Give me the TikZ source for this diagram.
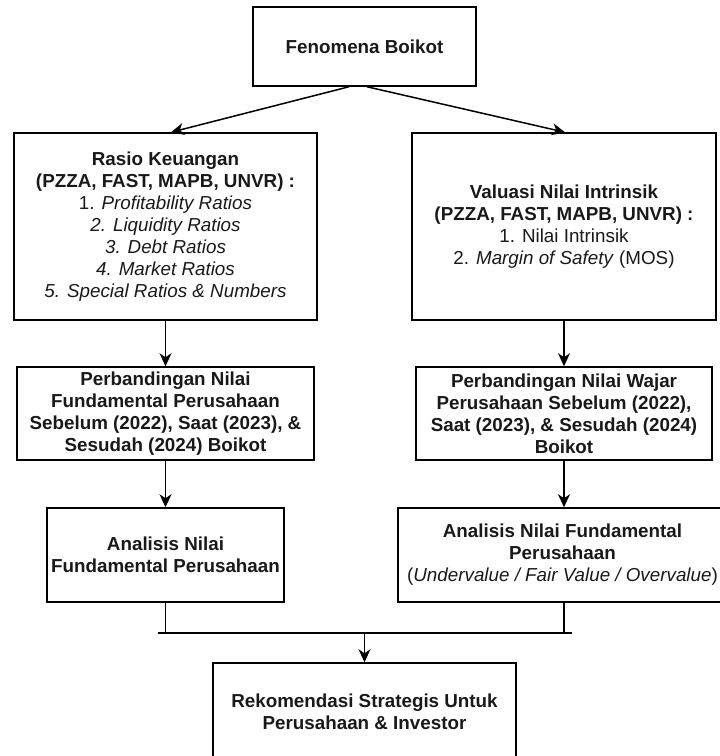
\documentclass[tikz,border=0pt]{standalone}
\usepackage{fontspec}
\setmainfont{Liberation Sans}
\usetikzlibrary{arrows.meta,calc}
\tikzset{
  box/.style={draw=black, line width=1.5pt, inner sep=0pt, align=center,
    font={\fontsize{18.8}{22}\selectfont}, text=black!90},
  arr/.style={line width=1.5pt, -{Stealth[length=13pt,width=12pt,inset=4pt]}},
  ln/.style={line width=1.5pt},
}
\begin{document}
\begin{tikzpicture}[x=1pt,y=-1pt]
\useasboundingbox (0,0) rectangle (720,756);
\node[box, minimum width=223pt, minimum height=79pt] (top) at (364.5,46.5) {\textbf{Fenomena Boikot}};
\node[box, minimum width=303pt, minimum height=187pt] (l2) at (165.5,226.5)
  {\textbf{Rasio Keuangan}\\\textbf{(PZZA, FAST, MAPB, UNVR) :}\\1. \textit{Profitability Ratios}\\\textit{2. Liquidity Ratios}\\\textit{3. Debt Ratios}\\\textit{4. Market Ratios}\\\textit{5. Special Ratios \& Numbers}};
\node[box, minimum width=304pt, minimum height=187pt] (r2) at (564,226.5)
  {\textbf{Valuasi Nilai Intrinsik}\\\textbf{(PZZA, FAST, MAPB, UNVR) :}\\1. Nilai Intrinsik\\2. \textit{Margin of Safety} (MOS)};
\node[box, minimum width=297pt, minimum height=93pt] (l3) at (165.5,413.5)
  {\textbf{Perbandingan Nilai}\\\textbf{Fundamental Perusahaan}\\\textbf{Sebelum (2022), Saat (2023), \&}\\\textbf{Sesudah (2024) Boikot}};
\node[box, minimum width=296pt, minimum height=93pt] (r3) at (564,413.5)
  {\textbf{Perbandingan Nilai Wajar}\\\textbf{Perusahaan Sebelum (2022),}\\\textbf{Saat (2023), \& Sesudah (2024)}\\\textbf{Boikot}};
\node[box, minimum width=237pt, minimum height=94pt] (l4) at (165.5,555)
  {\textbf{Analisis Nilai}\\\textbf{Fundamental Perusahaan}};
\node[box, minimum width=329pt, minimum height=94pt] (r4) at (562.5,555)
  {\textbf{Analisis Nilai Fundamental}\\\textbf{Perusahaan}\\(\textit{Undervalue / Fair Value / Overvalue})};
\node[box, minimum width=303pt, minimum height=97pt] (bot) at (364.5,711.5)
  {\textbf{Rekomendasi Strategis Untuk}\\\textbf{Perusahaan \& Investor}};
\coordinate (jl) at (158,633);
\coordinate (jr) at (572,633);
\draw[arr] ($(top.south)+(-15.5,0)$) -- ($(l2.north)+(5.5,0)$);
\draw[arr] ($(top.south)+(2.5,0)$) -- ($(r2.north)+(1,0)$);
\draw[arr] (l2.south) -- (l3.north);
\draw[arr] (r2.south) -- (r3.north);
\draw[arr] (l3.south) -- (l4.north);
\draw[arr] (r3.south) -- (r3.south |- r4.north);
\draw[ln] (l4.south) -- (l4.south |- jl);
\draw[ln] (r3.south |- r4.south) -- (r3.south |- jl);
\draw[ln] (jl) -- (jr);
\draw[arr] (bot.north |- jl) -- (bot.north);
\end{tikzpicture}
\end{document}
